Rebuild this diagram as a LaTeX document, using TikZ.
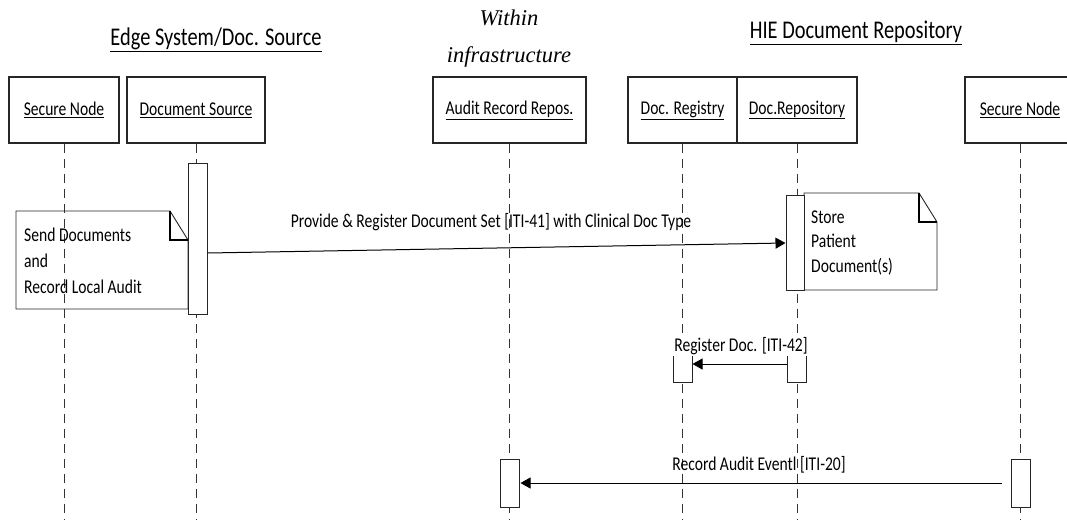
\documentclass[tikz,border=0pt]{standalone}
\usepackage{fontspec}
\setmainfont[FakeStretch=0.8]{Carlito}
\newfontfamily\captionserif{Liberation Serif}
\usetikzlibrary{arrows.meta}

\begin{document}
\begin{tikzpicture}[x=1pt,y=-1pt,
  actor/.style={draw=black!85, line width=1.1pt, fill=white, minimum height=66pt,
    inner sep=0pt, font=\fontsize{19.5}{22}\selectfont},
  life/.style={draw=black!80, line width=0.9pt, dash pattern=on 9pt off 6pt},
  act/.style={draw=black!85, line width=1pt, fill=white, minimum width=19pt, inner sep=0pt},
  note/.style={draw=black!85, line width=0.9pt},
  fold/.style={draw=black, line width=1.4pt},
  msg/.style={draw=black, line width=1pt, -{Triangle[length=10pt,width=11pt]}},
  lbl/.style={font=\fontsize{19.5}{22}\selectfont, inner sep=1pt},
  head/.style={font=\fontsize{25.5}{28}\selectfont},
]
\useasboundingbox (0,0) rectangle (1067,520);
\clip (0,0) rectangle (1067,520);

% group headings
\node[head] (hEdge) at (216,40) {\underline{Edge System/Doc. Source}};
\node[head] (hHIE) at (856,33) {\underline{HIE Document Repository}};
\node[font=\captionserif\itshape\fontsize{22.5}{37}\selectfont, align=center]
  (hInfra) at (509,39) {Within\\infrastructure};

% participants
\node[actor, minimum width=110pt] (sn1) at (64,110) {\underline{Secure Node}};
\node[actor, minimum width=138pt] (src) at (196,110) {\underline{Document Source}};
\node[actor, minimum width=153pt] (aud) at (509.5,110) {\underline{Audit Record Repos.}};
\node[actor, minimum width=109pt] (reg) at (682.5,110) {\underline{Doc. Registry}};
\node[actor, minimum width=120pt] (rep) at (797,110) {\underline{Doc.Repository}};
\node[actor, minimum width=110pt] (sn2) at (1020,110) {\underline{Secure Node}};

% lifelines
\foreach \p in {sn1,src,aud,reg,rep,sn2}{
  \coordinate (\p end) at (\p.south |- 0,520);
  \draw[life] (\p.south) -- (\p end);
}

% notes with folded corners
\draw[note] (16,211) coordinate (n1) -- (170,211) -- (188,240) -- (188,309) -- (16,309) -- cycle;
\draw[fold] (170,211) -- (170,240) -- (188,240);
\node[anchor=west, align=left, inner sep=0pt, font=\fontsize{19.5}{26}\selectfont]
  (noteSend) at (24,261) {Send Documents\\and\\Record Local Audit};

\draw[note] (804,193) coordinate (n2) -- (919,193) -- (937,222) -- (937,290) -- (804,290) -- cycle;
\draw[fold] (919,193) -- (919,222) -- (937,222);
\node[anchor=west, align=left, inner sep=0pt, font=\fontsize{19.5}{24.5}\selectfont]
  (noteStore) at (811,243) {Store\\Patient\\Document(s)};

% activations
\node[act, minimum height=151pt] (srcAct) at (197.5,238.5) {};
\node[act, minimum width=18pt, minimum height=95pt] (repAct) at (795,242.5) {};
\node[act, minimum height=42pt] (regAct) at (682.5,361) {};
\node[act, minimum height=42pt] (repAct2) at (796.5,361) {};
\node[act, minimum height=48pt] (audAct) at (509.5,483) {};
\node[act, minimum height=48pt] (sn2Act) at (1020.5,483) {};

% messages
\draw[msg] (srcAct.east |- 0,253) -- (repAct.west |- 0,243);
\node[lbl] (m1) at (491,222) {Provide \& Register Document Set [ITI-41] with Clinical Doc Type};

\draw[msg] (repAct2.west |- 0,364) -- (regAct.east |- 0,364);
\node[lbl, fill=white] (m2) at (741,346) {Register Doc. [ITI-42]};

\draw[msg] ([xshift=-9pt]sn2Act.west) -- ([xshift=1pt]audAct.east);
\node[lbl] (m3) at (759,465) {Record Audit Eventl [ITI-20]};
\end{tikzpicture}
\end{document}
